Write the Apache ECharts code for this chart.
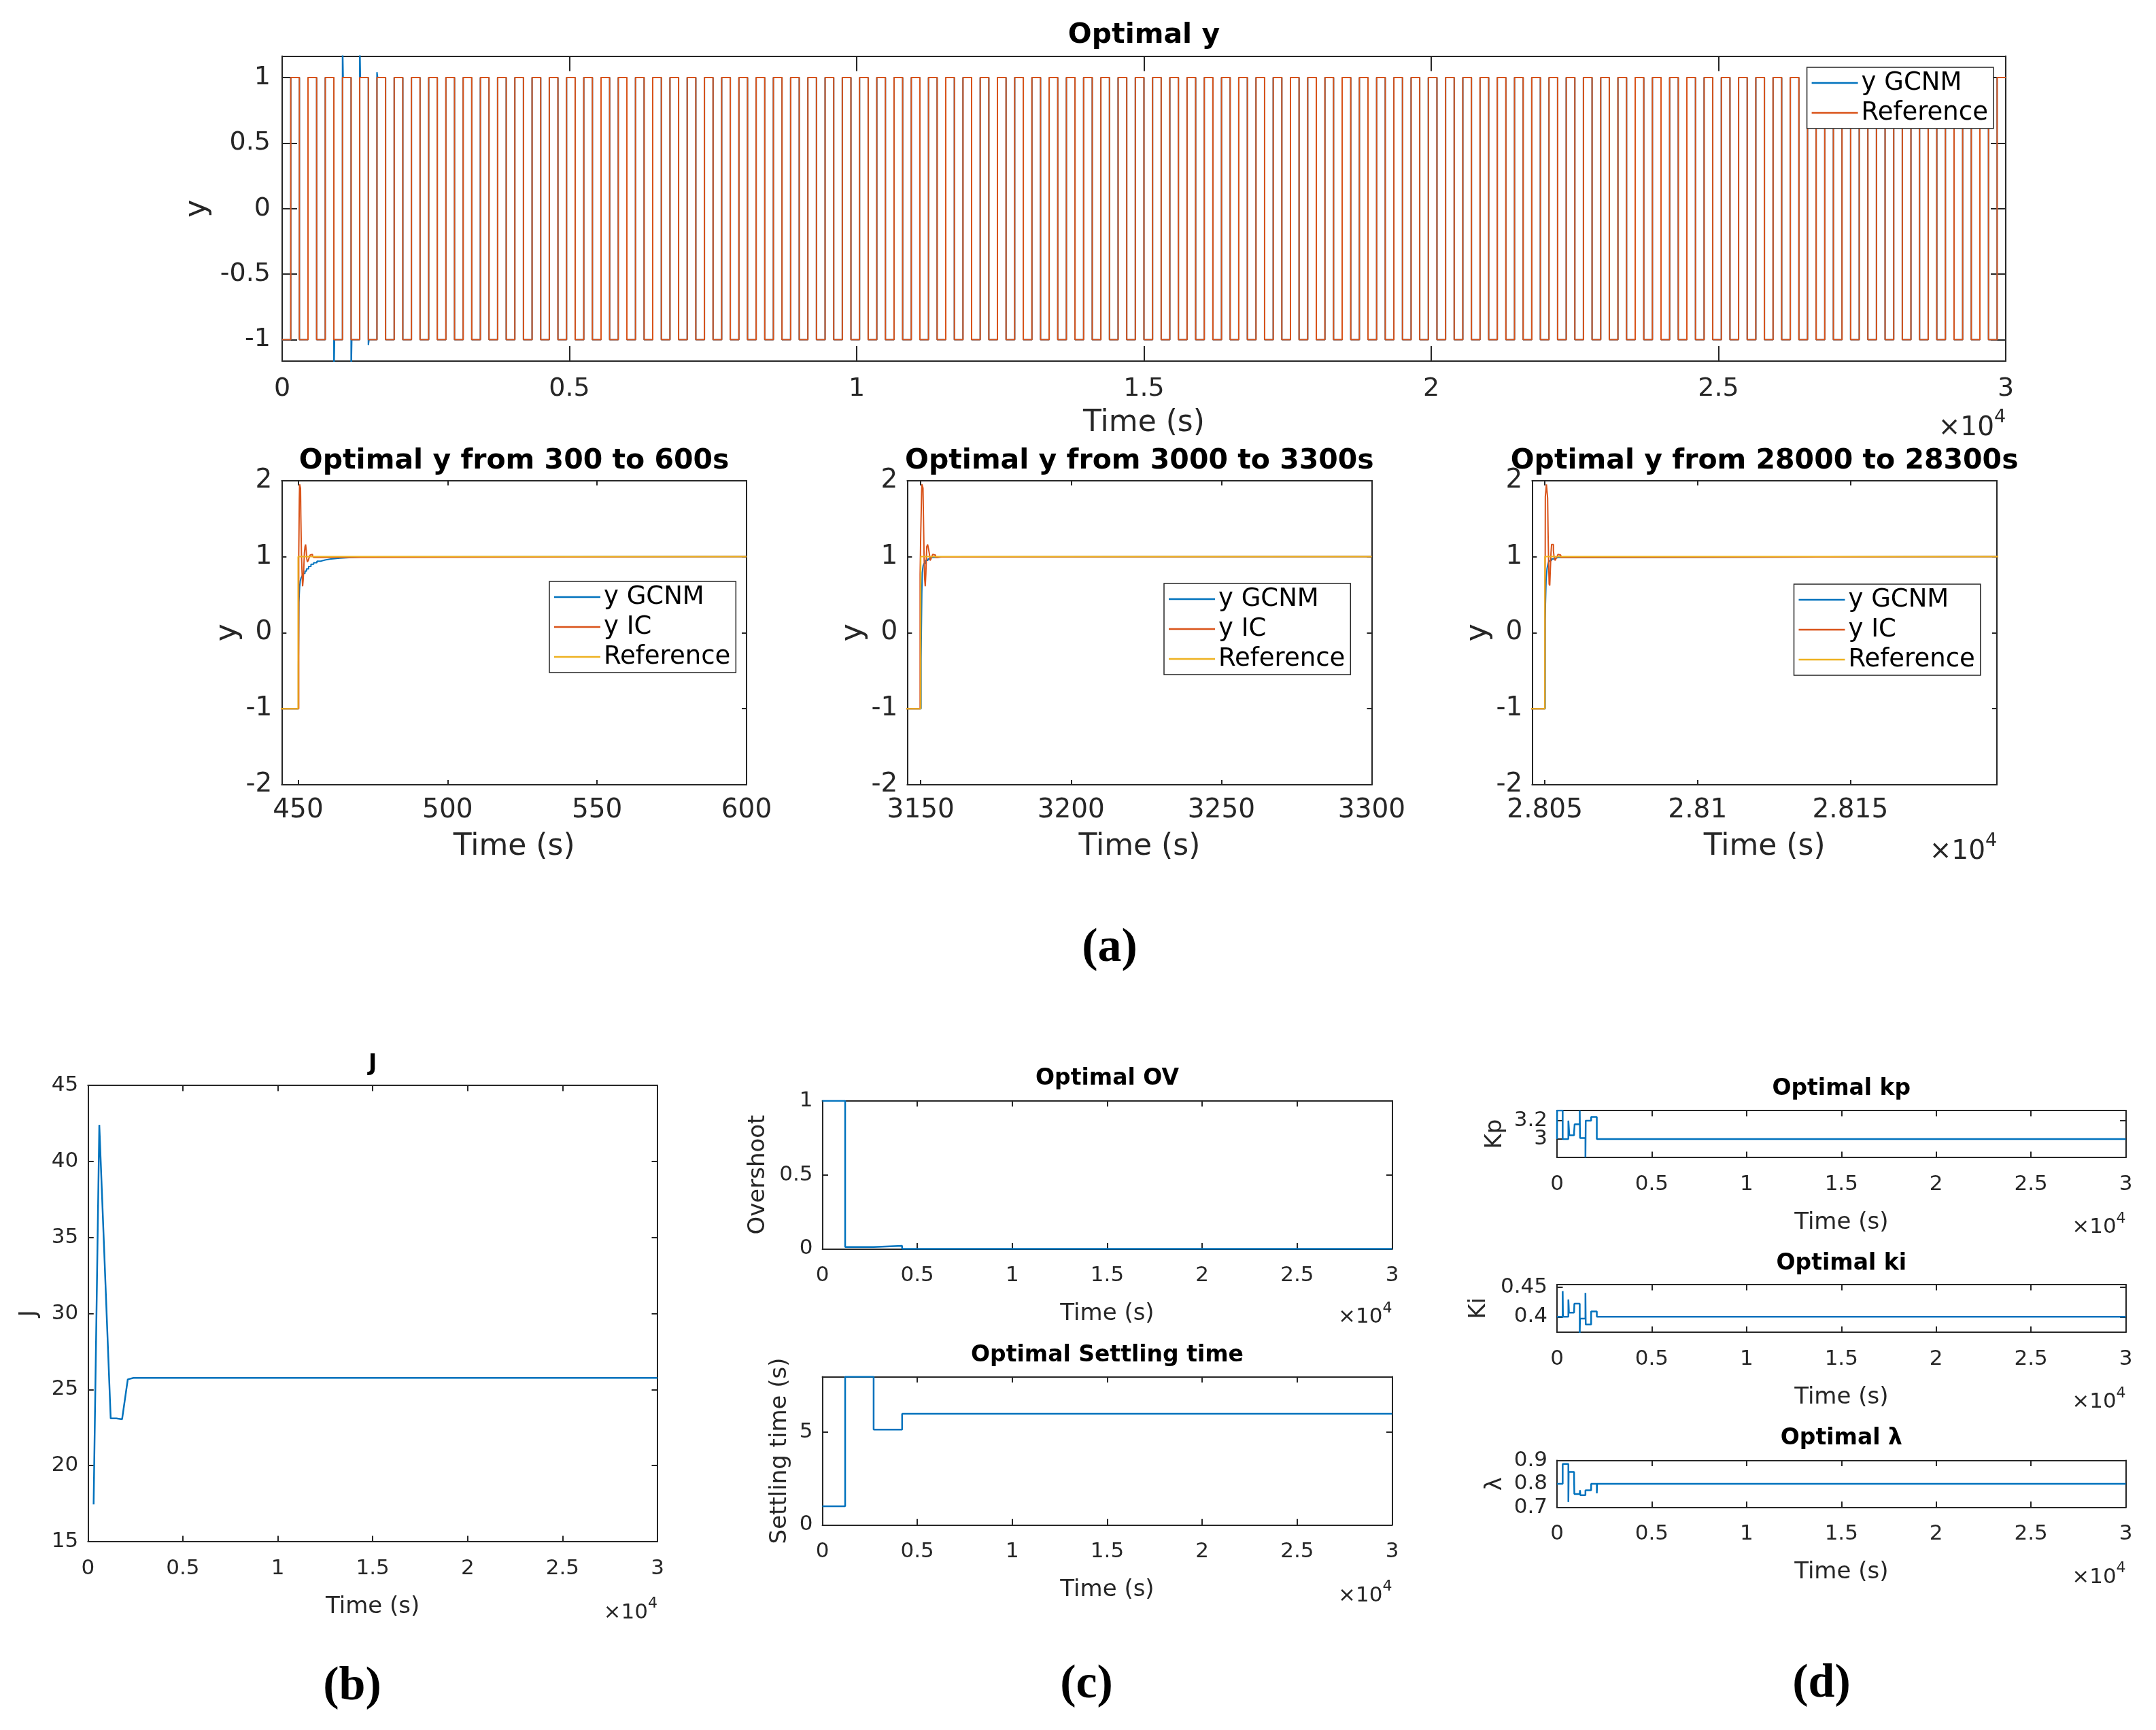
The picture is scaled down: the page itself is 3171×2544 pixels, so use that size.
<!DOCTYPE html>
<html>
<head>
<meta charset="utf-8">
<title>Optimal y</title>
<script src="https://cdn.jsdelivr.net/npm/echarts@6.0.0/dist/echarts.min.js"></script>
<style>
html, body { margin: 0; padding: 0; background: #fff; }
#main { width: 3171px; height: 2544px; }
</style>
</head>
<body>
<div id="main"></div>
<script>
var BLUE = '#0072BD', RED = '#D95319', YELLOW = '#EDB120', AX = '#262626', FONT = 'DejaVu Sans';

// ---- (a) full run: reference square wave switching times / levels
var refTimes = [
  0, 150, 300, 450, 600, 750, 900, 1050, 1200, 1350,
  1500, 1650, 1800, 1950, 2100, 2250, 2400, 2550, 2700, 2850,
  3000, 3150, 3300, 3450, 3600, 3750, 3900, 4050, 4200, 4350,
  4500, 4650, 4800, 4950, 5100, 5250, 5400, 5550, 5700, 5850,
  6000, 6150, 6300, 6450, 6600, 6750, 6900, 7050, 7200, 7350,
  7500, 7650, 7800, 7950, 8100, 8250, 8400, 8550, 8700, 8850,
  9000, 9150, 9300, 9450, 9600, 9750, 9900, 10050, 10200, 10350,
  10500, 10650, 10800, 10950, 11100, 11250, 11400, 11550, 11700, 11850,
  12000, 12150, 12300, 12450, 12600, 12750, 12900, 13050, 13200, 13350,
  13500, 13650, 13800, 13950, 14100, 14250, 14400, 14550, 14700, 14850,
  15000, 15150, 15300, 15450, 15600, 15750, 15900, 16050, 16200, 16350,
  16500, 16650, 16800, 16950, 17100, 17250, 17400, 17550, 17700, 17850,
  18000, 18150, 18300, 18450, 18600, 18750, 18900, 19050, 19200, 19350,
  19500, 19650, 19800, 19950, 20100, 20250, 20400, 20550, 20700, 20850,
  21000, 21150, 21300, 21450, 21600, 21750, 21900, 22050, 22200, 22350,
  22500, 22650, 22800, 22950, 23100, 23250, 23400, 23550, 23700, 23850,
  24000, 24150, 24300, 24450, 24600, 24750, 24900, 25050, 25200, 25350,
  25500, 25650, 25800, 25950, 26100, 26250, 26400, 26550, 26700, 26850,
  27000, 27150, 27300, 27450, 27600, 27750, 27900, 28050, 28200, 28350,
  28500, 28650, 28800, 28950, 29100, 29250, 29400, 29550, 29700, 29850,
  30000
];
var refLevels = [
  -1, 1, -1, 1, -1, 1, -1, 1, -1, 1,
  -1, 1, -1, 1, -1, 1, -1, 1, -1, 1,
  -1, 1, -1, 1, -1, 1, -1, 1, -1, 1,
  -1, 1, -1, 1, -1, 1, -1, 1, -1, 1,
  -1, 1, -1, 1, -1, 1, -1, 1, -1, 1,
  -1, 1, -1, 1, -1, 1, -1, 1, -1, 1,
  -1, 1, -1, 1, -1, 1, -1, 1, -1, 1,
  -1, 1, -1, 1, -1, 1, -1, 1, -1, 1,
  -1, 1, -1, 1, -1, 1, -1, 1, -1, 1,
  -1, 1, -1, 1, -1, 1, -1, 1, -1, 1,
  -1, 1, -1, 1, -1, 1, -1, 1, -1, 1,
  -1, 1, -1, 1, -1, 1, -1, 1, -1, 1,
  -1, 1, -1, 1, -1, 1, -1, 1, -1, 1,
  -1, 1, -1, 1, -1, 1, -1, 1, -1, 1,
  -1, 1, -1, 1, -1, 1, -1, 1, -1, 1,
  -1, 1, -1, 1, -1, 1, -1, 1, -1, 1,
  -1, 1, -1, 1, -1, 1, -1, 1, -1, 1,
  -1, 1, -1, 1, -1, 1, -1, 1, -1, 1,
  -1, 1, -1, 1, -1, 1, -1, 1, -1, 1,
  -1, 1, -1, 1, -1, 1, -1, 1, -1, 1,
  1
];
// y GCNM follows the reference, with visible over/undershoot at these early steps
var gcnmSpikeTimes = [900, 1050, 1200, 1350, 1500, 1650];
var gcnmSpikeValues = [-1.3, 1.3, -1.3, 1.3, -1.04, 1.04];
var gcnmSpikeHold = 12;

// ---- (a) zoomed windows
var sub1GcnmT = [300, 450.1, 450.25, 450.5, 450.7, 451, 451.4, 451.8, 452.3, 452.8, 453.5, 454.3, 455.2, 456.3, 457.5, 459, 461, 464, 468, 471, 600];
var sub1GcnmY = [-1, -0.43, 0.4, 0.6, 0.68, 0.72, 0.75, 0.78, 0.81, 0.84, 0.87, 0.9, 0.92, 0.94, 0.955, 0.97, 0.98, 0.99, 0.995, 1, 1];
var sub1IcT = [300, 450.2, 450.4, 450.5, 450.8, 450.9, 451.1, 451.3, 451.5, 451.7, 451.9, 452.1, 452.3, 452.5, 452.7, 452.9, 453.1, 453.4, 453.7, 454.0, 454.4, 454.8, 455.2, 456, 600];
var sub1IcY = [-1, 1.0, 1.75, 1.95, 1.9, 1.55, 1.05, 0.8, 0.61, 0.7, 0.85, 1.05, 1.13, 1.16, 1.08, 0.97, 0.93, 0.95, 0.99, 1.02, 1.03, 1.01, 0.99, 1.0, 1.0];
var sub1RefT = [300, 450, 600];
var sub1RefY = [-1, 1, 1];

var sub2GcnmT = [3000, 3150.1, 3150.35, 3150.5, 3150.8, 3151.1, 3151.6, 3152.4, 3153.1, 3154.3, 3157, 3300];
var sub2GcnmY = [-1, -0.35, 0.51, 0.79, 0.88, 0.91, 0.95, 0.97, 0.99, 0.995, 1, 1];
var sub2IcT = [3000, 3149.8, 3150.0, 3150.3, 3150.4, 3150.75, 3150.9, 3151.1, 3151.3, 3151.5, 3151.7, 3152.0, 3152.3, 3152.6, 3152.9, 3153.1, 3153.4, 3153.7, 3154.0, 3154.4, 3154.9, 3155.5, 3156.5, 3300];
var sub2IcY = [-1, 0.76, 1.3, 1.85, 1.95, 1.9, 1.54, 1.03, 0.71, 0.61, 0.77, 1.13, 1.16, 1.1, 1.03, 0.95, 0.97, 1.0, 1.03, 1.02, 0.99, 0.995, 1.0, 1.0];
var sub2RefT = [3000, 3150, 3300];
var sub2RefY = [-1, 1, 1];

var sub3GcnmT = [28000, 28050.1, 28050.2, 28050.4, 28050.7, 28051, 28051.3, 28051.7, 28052.2, 28052.8, 28053.5, 28054.6, 28200];
var sub3GcnmY = [-1, 0.17, 0.38, 0.69, 0.84, 0.9, 0.94, 0.95, 0.97, 0.98, 0.99, 1, 1];
var sub3IcT = [28000, 28050.0, 28050.15, 28050.5, 28050.9, 28051.05, 28051.25, 28051.4, 28051.6, 28051.8, 28052.0, 28052.2, 28052.6, 28052.8, 28053.0, 28053.3, 28053.6, 28054.0, 28054.3, 28054.7, 28055.2, 28056, 28200];
var sub3IcY = [-1, -0.92, 1.79, 1.95, 1.77, 1.32, 0.88, 0.64, 0.62, 0.84, 1.04, 1.16, 1.16, 1.08, 1.0, 0.95, 0.97, 1.0, 1.03, 1.02, 0.99, 1.0, 1.0];
var sub3RefT = [28000, 28050, 28200];
var sub3RefY = [-1, 1, 1];

// ---- (b) cost J
var jTimes = [300, 600, 1200, 1500, 1800, 2100, 2400, 30000];
var jValues = [17.45, 42.4, 23.1, 23.1, 23.05, 25.67, 25.76, 25.76];

// ---- (c) overshoot and settling time
var ovTimes = [0, 1200, 2700, 4200, 30000];
var ovValues = [1, 0.012, 0.02, 0, 0];
var stTimes = [0, 1200, 2700, 4200, 30000];
var stValues = [1.0, 8, 5.15, 6.0, 6.0];

// ---- (d) controller parameters
var kpTimes = [0, 5, 300, 600, 650, 900, 930, 1200, 1215, 1500, 1515, 1800, 2100, 30000];
var kpValues = [3.0, 3.31, 3.0, 3.2, 3.04, 3.07, 3.16, 3.31, 3.01, 2.8, 3.2, 3.24, 3.0, 3.0];
var kiTimes = [0, 300, 315, 600, 615, 630, 900, 915, 1200, 1215, 1500, 1515, 1800, 2100, 30000];
var kiValues = [0.4, 0.443, 0.4, 0.429, 0.419, 0.407, 0.409, 0.422, 0.373, 0.397, 0.44, 0.387, 0.409, 0.4, 0.4];
var lamTimes = [0, 300, 600, 615, 900, 915, 1200, 1215, 1230, 1500, 1800, 2100, 2115, 30000];
var lamValues = [0.8, 0.885, 0.723, 0.851, 0.826, 0.757, 0.752, 0.773, 0.752, 0.773, 0.8, 0.76, 0.8, 0.8];

// axis tick values
var fullTicks = [0, 5000, 10000, 15000, 20000, 25000, 30000];
var yTicksTop = [-1, -0.5, 0, 0.5, 1];
var yTicksSub = [-2, -1, 0, 1, 2];
var jTicks = [15, 20, 25, 30, 35, 40, 45];
var kpTicks = [3, 3.2];

var chart = echarts.init(document.getElementById('main'));

var grids = [], xAxes = [], yAxes = [], extraY = [], series = [], titles = [], legends = [], graphics = [];

function pairs(ts, vs) {
  return ts.map(function (t, i) { return [t, vs[i]]; });
}
function fmt1e4(v) { return String(+(v / 1e4).toFixed(4)); }
function plain(v) { return String(+v.toFixed(4)); }

function addPanel(p) {
  var gi = grids.length;
  grids.push({ left: p.box[0], top: p.box[1], width: p.box[2], height: p.box[3], containLabel: false, outerBoundsMode: 'none' });
  var ls = { color: AX, width: 2 };
  function tick(vals) { return { show: true, inside: true, length: p.tick, customValues: vals, lineStyle: ls }; }
  var nameStyle = { fontSize: p.nameSize, fontFamily: FONT, color: AX };
  var lab = { fontSize: p.tickSize, fontFamily: FONT, color: AX, hideOverlap: false };
  xAxes.push({
    gridIndex: gi, type: 'value', position: 'bottom', min: p.x[0], max: p.x[1],
    axisLine: { show: true, onZero: false, lineStyle: ls },
    axisTick: tick(p.xTicks),
    axisLabel: Object.assign({ customValues: p.xTicks, formatter: p.xFmt || plain, margin: p.xMargin }, lab),
    splitLine: { show: false },
    name: 'Time (s)', nameLocation: 'middle', nameGap: p.xGap, nameTextStyle: nameStyle
  }, {
    gridIndex: gi, type: 'value', position: 'top', min: p.x[0], max: p.x[1],
    axisLine: { show: true, onZero: false, lineStyle: ls },
    axisTick: tick(p.xTicks), axisLabel: { show: false }, splitLine: { show: false }
  });
  // labels that sit too close together are split over two label-only axes
  var mainLabels = p.yLabelSplit ? p.yTicks.slice(1) : p.yTicks;
  yAxes.push({
    gridIndex: gi, type: 'value', position: 'left', min: p.y[0], max: p.y[1],
    axisLine: { show: true, onZero: false, lineStyle: ls },
    axisTick: tick(p.yTicks),
    axisLabel: Object.assign({ customValues: mainLabels, formatter: plain, margin: p.yMargin }, lab),
    splitLine: { show: false },
    name: p.yName, nameLocation: 'middle', nameGap: p.yGap, nameTextStyle: nameStyle
  }, {
    gridIndex: gi, type: 'value', position: 'right', min: p.y[0], max: p.y[1],
    axisLine: { show: true, onZero: false, lineStyle: ls },
    axisTick: tick(p.yTicks), axisLabel: { show: false }, splitLine: { show: false }
  });
  if (p.yLabelSplit) {
    extraY.push({
      gridIndex: gi, type: 'value', position: 'left', offset: 0, min: p.y[0], max: p.y[1],
      axisLine: { show: false }, axisTick: { show: false }, splitLine: { show: false },
      axisLabel: Object.assign({ customValues: p.yTicks.slice(0, 1), formatter: plain, margin: p.yMargin }, lab)
    });
  }
  titles.push({
    text: p.title, left: p.box[0] + p.box[2] / 2, top: p.titleY - p.titleSize / 2,
    textAlign: 'center', padding: 0,
    textStyle: { fontSize: p.titleSize, fontWeight: 'bold', fontFamily: FONT, color: '#000' }
  });
  if (p.exp) addExp(p.box[0] + p.box[2], p.exp[0], p.exp[1], p.exp[2]);
  return gi;
}

function addExp(right, cy, big, small) {
  var supW = Math.round(small * 0.64);
  graphics.push({ type: 'text', x: right - supW, y: cy, z: 10,
    style: { text: '×10', font: big + 'px "DejaVu Sans"', fill: AX, textAlign: 'right', textVerticalAlign: 'middle' } });
  graphics.push({ type: 'text', x: right - supW, y: cy - big * 0.42, z: 10,
    style: { text: '4', font: small + 'px "DejaVu Sans"', fill: AX, textAlign: 'left', textVerticalAlign: 'middle' } });
}

function addLine(gi, name, color, data, width, step) {
  series.push({
    type: 'line', name: name, xAxisIndex: 2 * gi, yAxisIndex: 2 * gi, data: data,
    step: step, symbol: 'none', showSymbol: false, clip: true, silent: true,
    lineStyle: { color: color, width: width }, itemStyle: { color: color },
    emphasis: { disabled: true }
  });
}

function addLegend(left, top, items) {
  legends.push({
    left: left, top: top, orient: 'vertical', padding: [3, 8, 3, 7], itemGap: 4,
    itemWidth: 68, itemHeight: 2.5, icon: 'rect', selectedMode: false,
    borderColor: AX, borderWidth: 1.5, backgroundColor: '#fff',
    textStyle: { fontSize: 37, fontFamily: FONT, color: '#000', lineHeight: 40 },
    data: items.map(function (it) { return { name: it[0], itemStyle: { color: it[1] } }; })
  });
}

// ---------- (a) top: full run ----------
var g0 = addPanel({ box: [415, 82.5, 2535, 448.5], x: [0, 30000], xTicks: fullTicks, xFmt: fmt1e4,
  y: [-1.163, 1.163], yTicks: yTicksTop, yName: 'y', tick: 22, tickSize: 38, nameSize: 44,
  xMargin: 22, yMargin: 17, xGap: 70, yGap: 97, title: 'Optimal y', titleY: 52, titleSize: 41, exp: [630, 39, 27] });

var gcnmTop = [];
refTimes.forEach(function (t, i) {
  var k = gcnmSpikeTimes.indexOf(t);
  if (k >= 0) {
    gcnmTop.push([t, gcnmSpikeValues[k]]);
    gcnmTop.push([t + gcnmSpikeHold, refLevels[i]]);
  } else {
    gcnmTop.push([t, refLevels[i]]);
  }
});
addLine(g0, 'y GCNM', BLUE, gcnmTop, 2, 'end');
addLine(g0, 'Reference', RED, pairs(refTimes, refLevels), 2, 'end');
addLegend(2657.6, 99, [['y GCNM', BLUE], ['Reference', RED]]);

// ---------- (a) zoomed windows ----------
var rowCommon = { y: [-2, 2], yTicks: yTicksSub, yName: 'y', tick: 7, tickSize: 39, nameSize: 44,
  xMargin: 18, yMargin: 14, xGap: 70, yGap: 57, titleY: 678, titleSize: 41 };

var g1 = addPanel(Object.assign({ box: [414.3, 706.7, 683.7, 447.3], x: [444.5, 600], xTicks: [450, 500, 550, 600],
  title: 'Optimal y from 300 to 600s' }, rowCommon));
addLine(g1, 'y GCNM', BLUE, pairs(sub1GcnmT, sub1GcnmY), 2, 'end');
addLine(g1, 'y IC', RED, pairs(sub1IcT, sub1IcY), 2, 'end');
addLine(g1, 'Reference', YELLOW, pairs(sub1RefT, sub1RefY), 2, 'end');
addLegend(808, 855, [['y GCNM', BLUE], ['y IC', RED], ['Reference', YELLOW]]);

var g2 = addPanel(Object.assign({ box: [1334.3, 706.7, 683.2, 447.3], x: [3145.5, 3300], xTicks: [3150, 3200, 3250, 3300],
  title: 'Optimal y from 3000 to 3300s' }, rowCommon));
addLine(g2, 'y GCNM', BLUE, pairs(sub2GcnmT, sub2GcnmY), 2, 'end');
addLine(g2, 'y IC', RED, pairs(sub2IcT, sub2IcY), 2, 'end');
addLine(g2, 'Reference', YELLOW, pairs(sub2RefT, sub2RefY), 2, 'end');
addLegend(1712, 858, [['y GCNM', BLUE], ['y IC', RED], ['Reference', YELLOW]]);

var g3 = addPanel(Object.assign({ box: [2253.3, 706.7, 683.7, 447.3], x: [28045.8, 28198], xTicks: [28050, 28100, 28150],
  xFmt: fmt1e4, title: 'Optimal y from 28000 to 28300s', exp: [1253, 39, 27] }, rowCommon));
addLine(g3, 'y GCNM', BLUE, pairs(sub3GcnmT, sub3GcnmY), 2, 'end');
addLine(g3, 'y IC', RED, pairs(sub3IcT, sub3IcY), 2, 'end');
addLine(g3, 'Reference', YELLOW, pairs(sub3RefT, sub3RefY), 2, 'end');
addLegend(2638.5, 859, [['y GCNM', BLUE], ['y IC', RED], ['Reference', YELLOW]]);

// ---------- bottom row ----------
var botCommon = { x: [0, 30000], xTicks: fullTicks, xFmt: fmt1e4, tick: 8.5, tickSize: 31, nameSize: 34,
  xMargin: 24, yMargin: 14, xGap: 79, titleSize: 33 };

var g4 = addPanel(Object.assign({ box: [129.3, 1596, 837.7, 671], y: [15, 45], yTicks: jTicks, yName: 'J', yGap: 69,
  title: 'J', titleY: 1565, exp: [2371.5, 31, 22] }, botCommon));
addLine(g4, 'J', BLUE, pairs(jTimes, jValues), 2.5, false);

var g5 = addPanel(Object.assign({ box: [1209.5, 1618.7, 838, 217.7], y: [0, 1], yTicks: [0, 0.5, 1], yName: 'Overshoot', yGap: 77,
  title: 'Optimal OV', titleY: 1586, exp: [1937, 31, 22] }, botCommon));
addLine(g5, 'OV', BLUE, pairs(ovTimes, ovValues), 2.5, 'end');

var g6 = addPanel(Object.assign({ box: [1209.5, 2024.6, 838, 217.7], y: [0, 8], yTicks: [0, 5], yName: 'Settling time (s)', yGap: 45,
  title: 'Optimal Settling time', titleY: 1993, exp: [2346.7, 31, 22] }, botCommon));
addLine(g6, 'Ts', BLUE, pairs(stTimes, stValues), 2.5, 'end');

var g7 = addPanel(Object.assign({ box: [2290, 1633, 836.6, 69], y: [2.8, 3.31], yTicks: kpTicks, yLabelSplit: true, yName: 'Kp', yGap: 74,
  title: 'Optimal kp', titleY: 1601, exp: [1805, 31, 22] }, botCommon));
addLine(g7, 'kp', BLUE, pairs(kpTimes, kpValues), 2.5, 'end');

var g8 = addPanel(Object.assign({ box: [2290, 1889, 836.6, 70], y: [0.374, 0.454], yTicks: [0.4, 0.45], yName: 'Ki', yGap: 98,
  title: 'Optimal ki', titleY: 1858, exp: [2062, 31, 22] }, botCommon));
addLine(g8, 'ki', BLUE, pairs(kiTimes, kiValues), 2.5, 'end');

var g9 = addPanel(Object.assign({ box: [2290, 2147.6, 836.6, 69], y: [0.7, 0.9], yTicks: [0.7, 0.8, 0.9], yName: 'λ', yGap: 74,
  title: 'Optimal λ', titleY: 2115.6, exp: [2319.6, 31, 22] }, botCommon));
addLine(g9, 'lambda', BLUE, pairs(lamTimes, lamValues), 2.5, 'end');

// panel letters
[['(a)', 1632, 1395], ['(b)', 518, 2481], ['(c)', 1598, 2478], ['(d)', 2679, 2477]].forEach(function (l) {
  graphics.push({ type: 'text', x: l[1], y: l[2], z: 10,
    style: { text: l[0], font: 'bold 70px "Liberation Serif"', fill: '#000', textAlign: 'center', textVerticalAlign: 'middle' } });
});

chart.setOption({
  animation: false,
  backgroundColor: '#fff',
  textStyle: { fontFamily: FONT },
  title: titles,
  legend: legends,
  grid: grids,
  xAxis: xAxes,
  yAxis: yAxes.concat(extraY),
  series: series,
  graphic: { elements: graphics }
});
</script>
</body>
</html>
